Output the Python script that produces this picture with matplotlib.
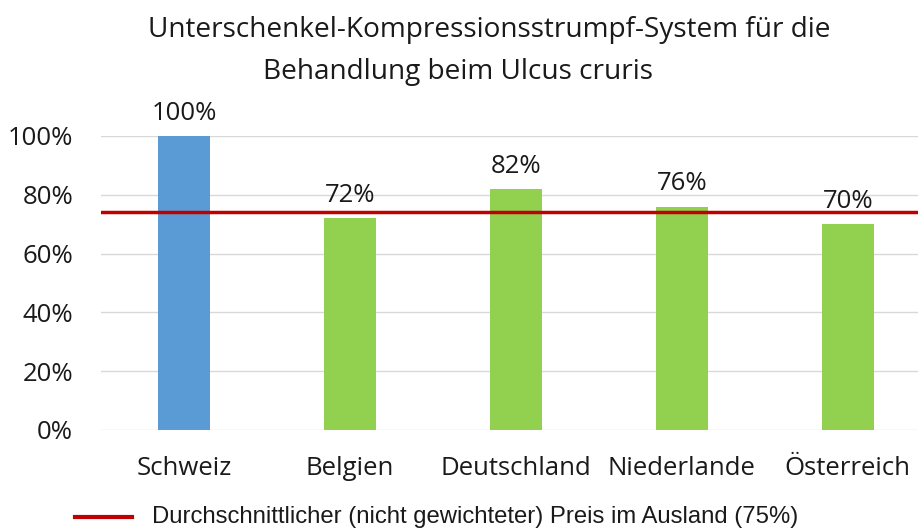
import matplotlib.pyplot as plt
from matplotlib.ticker import PercentFormatter

# ---------- Daten ----------
laender = ["Schweiz", "Belgien", "Deutschland", "Niederlande", "Österreich"]
werte = [100, 72, 82, 76, 70]
durchschnitt = 74
yticks = [0, 20, 40, 60, 80, 100]
farben = ["#5b9bd5", "#92d050", "#92d050", "#92d050", "#92d050"]
titel_zeilen = ["Unterschenkel-Kompressionsstrumpf-System für die",
                "Behandlung beim Ulcus cruris"]
legende = "Durchschnittlicher (nicht gewichteter) Preis im Ausland (75%)"
# ---------------------------

fig = plt.figure(figsize=(9.18, 5.3), dpi=100)
ax = fig.add_axes([0.110, 0.1887, 0.904, 0.5547])

x = range(len(laender))
ax.bar(x, werte, width=0.31, color=farben, zorder=2)
ax.axhline(durchschnitt, color="#c00000", linewidth=2.5, zorder=3)

for xi, v in zip(x, werte):
    ax.text(xi, v + 3.5, f"{v}%", ha="center", va="bottom",
            fontsize=18.5, family="Open Sans", color="#1a1a1a")

ax.set_xlim(-0.5, len(laender) - 0.5)
ax.set_ylim(0, 100)
ax.set_yticks(yticks)
ax.yaxis.set_major_formatter(PercentFormatter(decimals=0))
ax.set_xticks(list(x))
ax.set_xticklabels(laender)
ax.grid(axis="y", color="#d9d9d9", linewidth=1, zorder=0)
for s in ax.spines.values():
    s.set_visible(False)
ax.tick_params(length=0)
ax.tick_params(axis="x", pad=19)
ax.tick_params(axis="y", pad=20)
for lab in ax.get_xticklabels() + ax.get_yticklabels():
    lab.set_family("Open Sans")
    lab.set_fontsize(18.5)
    lab.set_color("#1a1a1a")

# Titel, zwei Zeilen
fig.text(489 / 918, 1 - 30 / 530, titel_zeilen[0], ha="center", va="center",
         fontsize=20.2, family="Open Sans", color="#1a1a1a")
fig.text(458 / 918, 1 - 72 / 530, titel_zeilen[1], ha="center", va="center",
         fontsize=20.2, family="Open Sans", color="#1a1a1a")

# Legende unten
fig.lines.append(plt.Line2D([75 / 918, 132 / 918], [1 - 517 / 530] * 2,
                            color="#c00000", linewidth=3, transform=fig.transFigure))
fig.text(152 / 918, 1 - 517 / 530, legende, ha="left", va="center",
         fontsize=17.2, family="Liberation Sans", color="#1a1a1a")

fig.savefig("out.png", dpi=100)
